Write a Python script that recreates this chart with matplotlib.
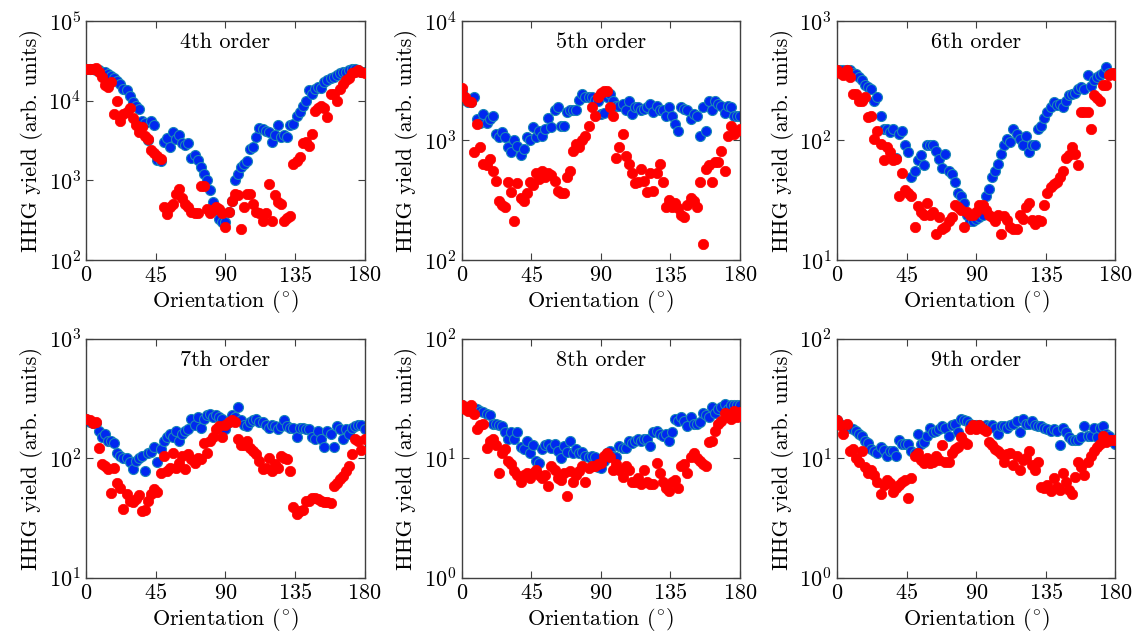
import numpy as np
import matplotlib
matplotlib.use("Agg")
import matplotlib.pyplot as plt

plt.rcParams['font.family'] = 'serif'
plt.rcParams['font.serif'] = ['cmr10']
plt.rcParams['mathtext.fontset'] = 'cm'
plt.rcParams['axes.formatter.use_mathtext'] = True

# angles (deg), 2 degree steps
angle = np.arange(0, 181, 2)

orders = ["4th order", "5th order", "6th order", "7th order", "8th order", "9th order"]
ylims = [(1e2, 1e5), (1e2, 1e4), (1e1, 1e3), (1e1, 1e3), (1e0, 1e2), (1e0, 1e2)]

# 4th order
blue4 = [2.5e4, 2.5e4, 2.5e4, 2.45e4, 2.4e4, 2.3e4, 2.3e4, 2.15e4, 2.05e4, 1.9e4,
         1.75e4, 1.6e4, 1.4e4, 1.35e4, 1.15e4, 9.5e3, 8.5e3, 7.8e3, 5.5e3, 5.3e3,
         3.2e3, 5.6e3, 4.9e3, 1.8e3, 1.75e3, 3.0e3, 3.4e3, 2.6e3, 4.0e3, 3.3e3,
         3.7e3, 2.9e3, 2.8e3, 2.9e3, 1.9e3, 2.1e3, 1.8e3, 1.45e3, 1.2e3, 1.0e3,
         7.6e2, 5.3e2, 4.2e2, 3.3e2, 3.0e2, 3.0e2, 4.0e2, 5.5e2, 1.0e3, 1.2e3,
         1.45e3, 1.6e3, 1.75e3, 2.5e3, 2.6e3, 3.5e3, 4.5e3, 4.4e3, 4.2e3, 4.0e3,
         3.0e3, 3.7e3, 4.9e3, 3.5e3, 3.7e3, 3.5e3, 4.9e3, 5.1e3, 6.5e3, 7.2e3,
         8.5e3, 9.8e3, 1.35e4, 1.2e4, 1.4e4, 1.5e4, 1.45e4, 1.7e4, 1.8e4, 1.9e4,
         2.0e4, 2.1e4, 2.2e4, 2.3e4, 2.3e4, 2.4e4, 2.5e4, 2.5e4, 2.4e4, 2.3e4, 2.3e4]
red4 = [2.5e4, 2.5e4, 2.5e4, 2.6e4, 2.3e4, 2.0e4, 1.55e4, 1.5e4, 1.7e4, 6.8e3,
        1.0e4, 5.6e3, 6.8e3, 7.2e3, 8.0e3, 6.0e3, 5.0e3, 4.0e3, 4.6e3, 3.6e3,
        3.3e3, 2.4e3, 2.2e3, 2.0e3, 1.85e3, 4.6e2, 3.8e2, 4.6e2, 5.0e2, 6.7e2,
        7.8e2, 6.0e2, 5.0e2, 4.6e2, 4.0e2, 3.9e2, 3.9e2, 8.5e2, 8.5e2, 4.4e2,
        3.9e2, 4.2e2, 4.6e2, 4.4e2, 3.9e2, 2.6e2, 4.0e2, 5.5e2, 6.7e2, 6.5e2,
        2.45e2, 4.6e2, 6.7e2, 6.7e2, 5.0e2, 4.0e2, 3.9e2, 3.1e2, 3.9e2, 9.0e2,
        3.1e2, 6.5e2, 5.3e2, 5.0e2, 3.1e2, 3.4e2, 3.6e2, 1.6e3, 1.75e3, 1.95e3,
        2.9e3, 3.0e3, 2.7e3, 3.8e3, 7.5e3, 8.0e3, 8.5e3, 8.0e3, 6.2e3, 1.2e4,
        1.2e4, 1.0e4, 1.4e4, 1.6e4, 1.8e4, 1.9e4, 2.2e4, 2.3e4, 2.4e4, 2.3e4, 2.2e4]

# 5th order
blue5 = [2.6e3, 2.2e3, 2.1e3, 2.1e3, 2.3e3, 1.5e3, 1.4e3, 1.67e3, 1.4e3, 1.5e3,
         1.6e3, 1.14e3, 1.07e3, 1.18e3, 1.07e3, 8.8e2, 8.0e2, 1.0e3, 9.0e2, 7.5e2,
         8.5e2, 1.07e3, 1.0e3, 1.3e3, 1.07e3, 1.2e3, 1.1e3, 1.25e3, 1.55e3, 1.3e3,
         1.8e3, 1.9e3, 1.33e3, 1.33e3, 1.73e3, 1.8e3, 1.8e3, 1.8e3, 2.2e3, 2.45e3,
         2.3e3, 2.3e3, 2.3e3, 2.2e3, 2.15e3, 1.67e3, 1.7e3, 2.3e3, 2.45e3, 2.15e3,
         1.95e3, 1.95e3, 2.0e3, 1.8e3, 2.15e3, 1.67e3, 1.9e3, 1.9e3, 1.8e3, 1.85e3,
         1.9e3, 2.0e3, 1.73e3, 1.95e3, 1.8e3, 1.8e3, 1.6e3, 1.9e3, 1.6e3, 1.38e3,
         1.2e3, 1.9e3, 1.85e3, 1.8e3, 1.5e3, 1.67e3, 1.6e3, 1.1e3, 1.9e3, 1.2e3,
         2.15e3, 1.8e3, 2.15e3, 2.0e3, 1.95e3, 1.7e3, 1.95e3, 1.9e3, 1.6e3, 1.6e3, 1.6e3]
red5 = [2.76e3, 2.3e3, 2.15e3, 2.1e3, 8.0e2, 1.38e3, 8.8e2, 6.4e2, 6.2e2, 7.0e2,
        5.6e2, 4.6e2, 3.1e2, 2.9e2, 2.75e2, 4.5e2, 3.7e2, 2.1e2, 4.4e2, 3.3e2,
        3.1e2, 3.6e2, 4.5e2, 4.2e2, 5.3e2, 4.8e2, 5.6e2, 4.9e2, 5.3e2, 5.1e2,
        4.6e2, 3.8e2, 3.6e2, 3.6e2, 4.9e2, 5.6e2, 8.2e2, 9.4e2, 8.8e2, 1.0e3,
        1.08e3, 1.33e3, 1.9e3, 1.6e3, 2.3e3, 2.5e3, 2.6e3, 2.6e3, 1.9e3, 1.6e3,
        7.2e2, 8.8e2, 1.14e3, 7.4e2, 6.4e2, 5.3e2, 4.4e2, 4.5e2, 5.8e2, 4.6e2,
        3.7e2, 5.3e2, 3.8e2, 5.3e2, 6.4e2, 4.5e2, 2.8e2, 3.2e2, 2.75e2, 3.0e2,
        2.7e2, 2.4e2, 2.3e2, 2.9e2, 3.3e2, 3.1e2, 2.8e2, 4.5e2, 1.37e2, 5.8e2,
        6.2e2, 4.5e2, 6.6e2, 6.6e2, 8.2e2, 5.5e2, 1.08e3, 1.33e3, 1.14e3, 1.2e3, 1.25e3]

# 6th order
blue6 = [385, 385, 390, 390, 390, 370, 360, 340, 320, 290,
         280, 270, 215, 230, 160, 125, 125, 117, 125, 72,
         114, 120, 91, 80, 49, 56, 68, 75, 62, 91,
         91, 91, 82, 70, 59, 77, 56, 52, 44.5, 36,
         34, 30, 24, 21, 21, 22, 23, 24, 34, 39,
         49, 56, 64, 77, 91, 103, 97, 125, 114, 103,
         91, 110, 80, 91, 91, 125, 133, 153, 174, 190,
         210, 197, 203, 190, 215, 240, 245, 250, 270, 280,
         270, 350, 285, 320, 340, 350, 370, 410, 370, 360, 370]
red6 = [385, 370, 350, 385, 340, 245, 245, 215, 215, 230,
        157, 160, 103, 120, 94, 68, 88, 80, 68, 70,
        34, 53, 38.5, 36, 34, 19, 28.5, 25, 24, 30,
        24, 25, 16.5, 23, 18, 19, 21, 23, 29, 28,
        26, 19, 25, 24, 24, 25, 29, 29, 26, 24,
        23, 21, 24, 16.5, 23.5, 21.5, 19, 18, 18, 24,
        22, 27.5, 30, 21.5, 20, 21.5, 21, 29, 36, 41,
        43.5, 45, 49, 55, 72, 75, 88, 77, 62, 173,
        173, 173, 125, 240, 225, 215, 290, 290, 350, 370, 350]

# 7th order
blue7 = [215, 200, 197, 197, 170, 150, 160, 140, 140, 135,
         110, 105, 100, 100, 93, 82, 95, 100, 105, 78,
         110, 113, 125, 94, 120, 140, 150, 160, 150, 170,
         140, 160, 170, 175, 215, 190, 220, 180, 215, 230,
         235, 220, 230, 220, 215, 175, 200, 230, 220, 270,
         210, 190, 185, 200, 210, 215, 200, 200, 190, 180,
         190, 185, 175, 185, 210, 185, 180, 180, 150, 180,
         180, 175, 175, 150, 145, 170, 145, 125, 170, 160,
         125, 185, 175, 145, 175, 160, 180, 185, 190, 190, 175]
red7 = [215, 210, 197, 200, 122, 89, 86, 81, 51, 83,
        62, 57, 38, 50, 44, 43, 46, 49, 36, 37,
        44, 50, 55, 52, 76, 105, 78, 83, 110, 83,
        92, 105, 81, 108, 98, 92, 100, 98, 135, 110,
        140, 150, 175, 185, 150, 190, 200, 210, 200, 145,
        130, 130, 140, 122, 115, 108, 95, 81, 83, 100,
        78, 89, 83, 105, 100, 98, 78, 39, 34, 36,
        37, 44, 44, 47, 47, 46, 44, 43, 43, 42,
        59, 62, 67, 71, 78, 86, 108, 145, 140, 118, 145]

# 8th order
blue8 = [27.8, 27, 27, 27, 26.5, 26, 25, 24.5, 23.5, 23,
         19.5, 19.5, 19, 18.5, 16.5, 14.5, 16.5, 14.5, 16.5, 12.5,
         12, 14, 11, 13, 9.5, 9.2, 12, 13, 13.3, 12.2,
         13.3, 11.5, 10, 12.7, 11.2, 14, 11, 12, 11, 11.2,
         10.5, 10.2, 10.5, 10.2, 8.5, 8.3, 9.5, 11, 11.5, 10.5,
         10.2, 12.7, 12.2, 12.2, 14, 13.5, 14, 14.5, 14, 14.5,
         14.5, 12.7, 16.5, 17, 16, 15.5, 16, 14, 16.5, 21.5,
         20.5, 22, 20.5, 18.5, 22, 19.5, 19.5, 20, 24, 23,
         22, 27, 24, 26, 27, 28.5, 26, 28, 28, 28, 28]
red8 = [27.8, 26, 25, 27.8, 23.5, 17.5, 19, 19.5, 12.2, 14,
        14.5, 13, 7.5, 11, 12, 9.5, 8.9, 7.8, 7.3, 6.4,
        7.3, 7.5, 6.8, 7.5, 8.0, 7.3, 6.8, 7.3, 5.9, 8.6,
        8.0, 6.8, 6.6, 7.5, 4.8, 7.8, 6.4, 7.3, 7.8, 8.6,
        6.3, 8.3, 8.6, 8.6, 8.9, 9.2, 10.5, 11, 10.2, 8.0,
        8.9, 8.0, 7.0, 8.6, 8.0, 6.3, 6.4, 6.8, 6.1, 8.0,
        6.4, 6.1, 6.1, 9.2, 7.5, 6.4, 5.7, 5.3, 6.4, 6.6,
        5.7, 8.6, 8.9, 7.5, 10.2, 11, 10, 9.5, 8.9, 8.6,
        13.7, 14, 17, 19.5, 20.5, 24, 22, 21.5, 25, 22, 24.5]

# 9th order
blue9 = [20.9, 19.5, 18.5, 18.5, 18, 17.5, 17, 16, 15.5, 14,
         13.5, 12, 11.5, 11, 12.5, 11.7, 10.5, 11.5, 11.5, 10.5,
         14.2, 13.3, 13.3, 13.3, 11.5, 11, 16, 13.3, 13.7, 15.5,
         18, 16.5, 17, 17.5, 18.5, 18, 15.5, 19, 19.5, 16.5,
         21.5, 21, 20.5, 19.5, 19, 19, 19, 18.5, 19, 18.5,
         19, 18, 16, 18.5, 18.5, 18, 19, 19.5, 20.5, 16.5,
         21.5, 19.5, 19.5, 20.5, 19, 18.5, 18.5, 18, 17.5, 17,
         17.5, 17, 13, 18, 16.5, 15, 14.2, 14.2, 14.2, 15,
         18.5, 15.5, 15.5, 18, 15, 18, 18.5, 16, 15.5, 14, 13.3]
red9 = [20.9, 19, 16, 19.5, 11.5, 12, 10, 9.4, 11.5, 8.5,
        7.5, 8, 7.3, 6.4, 5.0, 6.0, 6.6, 6.2, 5.2, 5.6,
        6.0, 6.4, 6.6, 4.7, 6.8, 10.5, 11, 9.7, 9.1, 10,
        9.1, 9.4, 10.5, 9.7, 13, 9.4, 9.4, 11, 12, 12.5,
        15, 13.7, 13.3, 17.5, 19, 17.5, 19, 17.5, 17, 13.7,
        13, 12, 11.5, 10.8, 9.4, 10.8, 11, 8.8, 10.5, 8,
        9.7, 10, 11.5, 8.8, 8, 9.4, 5.8, 5.6, 6, 5.3,
        6.8, 5.8, 5.4, 7.6, 6.4, 5.4, 5.0, 7.0, 9.4, 8.5,
        7.3, 9.4, 10.5, 11.5, 12.5, 13.3, 15.5, 13.7, 14.2, 14.2, 14.2]

blues = [blue4, blue5, blue6, blue7, blue8, blue9]
reds = [red4, red5, red6, red7, red8, red9]

fig, axes = plt.subplots(2, 3, figsize=(11.37, 6.35), dpi=100)
plt.subplots_adjust(left=0.076, right=0.981, bottom=0.09, top=0.967,
                    wspace=0.35, hspace=0.33)

for i, ax in enumerate(axes.flat):
    ax.scatter(angle, blues[i], s=52, facecolor='#0028f0', edgecolor='#1a88b8',
               linewidths=0.8, zorder=2)
    ax.scatter(angle, reds[i], s=56, facecolor='#ff0000', edgecolor='#ff0000',
               linewidths=0.5, zorder=3)
    ax.set_yscale('log')
    ax.set_ylim(*ylims[i])
    ax.set_xlim(0, 180)
    ax.set_xticks([0, 45, 90, 135, 180])
    ax.minorticks_off()
    ax.tick_params(direction='in', which='both', top=True, right=True,
                   labelsize=16, length=5, color='#404040', pad=4)
    for sp in ax.spines.values():
        sp.set_color('#404040')
        sp.set_linewidth(1.0)
    ax.set_xlabel(r'Orientation ($^{\circ}$)', fontsize=16, labelpad=2)
    ax.set_ylabel('HHG yield (arb. units)', fontsize=16, labelpad=4)
    ax.text(0.5, 0.91, orders[i], transform=ax.transAxes, ha='center',
            va='center', fontsize=16)

plt.savefig('out.png', dpi=100)
